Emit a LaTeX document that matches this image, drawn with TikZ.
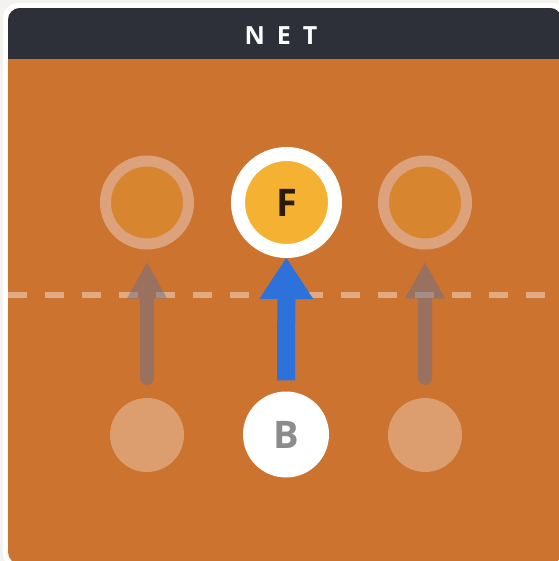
\documentclass[tikz,border=0pt]{standalone}
\usepackage{fontspec}
\setmainfont{Open Sans}
\usetikzlibrary{arrows.meta}

\definecolor{pagebg}{HTML}{F3F2EF}
\definecolor{headerdark}{HTML}{2D3039}
\definecolor{court}{HTML}{CC7330}
\definecolor{ringfaint}{HTML}{DCA27C}
\definecolor{ringinner}{HTML}{D7852F}
\definecolor{spotfaint}{HTML}{DC9D6F}
\definecolor{frontyellow}{HTML}{F5B131}
\definecolor{frontink}{HTML}{2B1D05}
\definecolor{backink}{HTML}{8C8C8C}
\definecolor{moveblue}{HTML}{2D71DA}
\definecolor{ghostarrow}{HTML}{6A6E8C}

\tikzset{
  ghostring/.style={circle, minimum size=83pt, inner sep=0pt, line width=11pt,
    draw=ringfaint, fill=ringinner},
  ghostspot/.style={circle, minimum size=74pt, inner sep=0pt, fill=spotfaint},
  frontspot/.style={circle, minimum size=97pt, inner sep=0pt, line width=14pt,
    draw=white, fill=frontyellow, text=frontink,
    font=\fontsize{38}{38}\selectfont\bfseries},
  backspot/.style={circle, minimum size=86pt, inner sep=0pt, fill=white,
    text=backink, font=\fontsize{38}{38}\selectfont\bfseries},
  ghostmove/.style={ghostarrow, line width=14pt, line cap=round,
    -{Triangle[length=36pt,width=40pt,line width=0pt]}},
  mainmove/.style={moveblue, line width=18pt,
    -{Triangle[length=41pt,width=54pt,line width=0pt]}},
  netline/.style={white, opacity=0.4, line width=6pt,
    dash pattern=on 18.5pt off 18.5pt},
  title/.style={text=white, inner sep=0pt,
    font=\fontsize{25}{25}\selectfont\bfseries\addfontfeature{LetterSpace=48}}
}

\begin{document}
\begin{tikzpicture}[x=1pt, y=-1pt]
  \useasboundingbox (0,0) rectangle (558,561);
  \fill[pagebg] (0,0) rectangle (558,561);

  % card with white rim
  \fill[white, rounded corners=15] (3,3) rectangle (567,569);
  \begin{scope}
    \clip[rounded corners=12] (8,8) rectangle (562,564);
    \fill[court] (8,8) rectangle (562,564);
    \fill[headerdark] (8,8) rectangle (562,59);
  \end{scope}
  \node[title] (net) at (281,36) {NET};

  % players
  \node[ghostring] (ringL) at (147,202.5) {};
  \node[frontspot] (front) at (286.5,202.5) {F};
  \node[ghostring] (ringR) at (425,202.5) {};
  \node[ghostspot] (spotL) at (147,435) {};
  \node[backspot] (back) at (286,434.5) {B};
  \node[ghostspot] (spotR) at (425,435) {};

  % net line
  \coordinate (netW) at (8,295);
  \coordinate (netE) at (562,295);
  \draw[netline] (netW) -- (netE);

  % possible moves
  \begin{scope}[transparency group, opacity=0.5]
    \draw[ghostmove, shorten <=20pt, shorten >=13pt] (spotL) -- (ringL);
    \draw[ghostmove, shorten <=20pt, shorten >=13pt] (spotR) -- (ringR);
  \end{scope}
  \draw[mainmove, shorten <=11pt] (back) -- (front);
\end{tikzpicture}
\end{document}
